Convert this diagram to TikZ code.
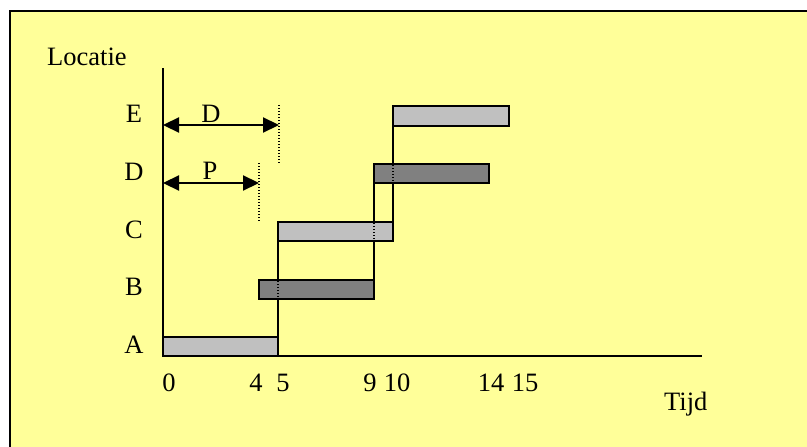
\documentclass[tikz,border=0pt]{standalone}
\usepackage{fontspec}
\setmainfont{Liberation Serif}
\usetikzlibrary{arrows.meta}
\definecolor{bgyellow}{HTML}{FFFF99}
\definecolor{lightbar}{HTML}{C0C0C0}
\definecolor{darkbar}{HTML}{808080}
\begin{document}
\begin{tikzpicture}[x=1pt,y=-1pt,
  lbl/.style={font=\fontsize{26.5}{30}\selectfont,inner sep=0pt,anchor=base},
  barlight/.style={draw=black,line width=2.2pt,fill=lightbar},
  bardark/.style={draw=black,line width=2.2pt,fill=darkbar},
  axisline/.style={line width=2pt},
  stepline/.style={line width=2.2pt},
  dotline/.style={line width=1.6pt,dash pattern=on 1.4pt off 1.6pt},
  dimarrow/.style={line width=2.2pt,{Triangle[length=16pt,width=15pt]}-{Triangle[length=16pt,width=15pt]}}
]
\useasboundingbox (0,0) rectangle (807,447);
% frame
\draw[line width=2pt,fill=bgyellow] (10,11) rectangle (830,470);

% axes
\coordinate (ytop) at (163,68);
\coordinate (orig) at (163,356);
\coordinate (xend) at (702,356);
\draw[axisline] (ytop) -- (orig) -- (xend);

% step lines (drawn under bars)
\coordinate (s1b) at (278,356);
\coordinate (s1t) at (278,222);
\coordinate (s2b) at (374,299);
\coordinate (s2t) at (374,164);
\coordinate (s3b) at (393,241);
\coordinate (s3t) at (393,106);
\draw[stepline] (s1b) -- (s1t);
\draw[stepline] (s2b) -- (s2t);
\draw[stepline] (s3b) -- (s3t);

% bars
\draw[barlight] (163,337) rectangle (278,356);
\draw[bardark]  (259,280) rectangle (374,299);
\draw[barlight] (278,222) rectangle (393,241);
\draw[bardark]  (374,164) rectangle (489,183);
\draw[barlight] (393,106) rectangle (509,126);

% dotted parts inside bars
\coordinate (d1t) at (278,281);
\coordinate (d1b) at (278,298);
\coordinate (d2t) at (374,223);
\coordinate (d2b) at (374,240);
\coordinate (d3t) at (393,165);
\coordinate (d3b) at (393,182);
\draw[dotline] (d1t) -- (d1b);
\draw[dotline] (d2t) -- (d2b);
\draw[dotline] (d3t) -- (d3b);

% dimension arrows
\coordinate (dL) at (163,125);
\coordinate (dR) at (279,125);
\coordinate (pL) at (163,183);
\coordinate (pR) at (259,183);
\coordinate (dDt) at (279,105);
\coordinate (dDb) at (279,164);
\coordinate (dPt) at (259,163);
\coordinate (dPb) at (259,222);
\draw[dimarrow] (dL) -- (dR);
\draw[dimarrow] (pL) -- (pR);
\draw[dotline] (dDt) -- (dDb);
\draw[dotline] (dPt) -- (dPb);
\node[lbl] (labD) at (211,122) {D};
\node[lbl] (labP) at (210,179) {P};

% location labels
\node[lbl] (locE) at (134,122) {E};
\node[lbl] (locD) at (134,180) {D};
\node[lbl] (locC) at (134,238) {C};
\node[lbl] (locB) at (134,295) {B};
\node[lbl] (locA) at (134,353) {A};
\node[lbl,anchor=base west] (loc) at (47,65) {Locatie};

% time labels
\node[lbl] (t0) at (169,391) {0};
\node[lbl] (t4) at (256,391) {4};
\node[lbl] (t5) at (283,391) {5};
\node[lbl] (t9) at (370,391) {9};
\node[lbl] (t10) at (397,391) {10};
\node[lbl] (t14) at (491,391) {14};
\node[lbl] (t15) at (525,391) {15};
\node[lbl,anchor=base west] (tijd) at (664,410) {Tijd};
\end{tikzpicture}
\end{document}
